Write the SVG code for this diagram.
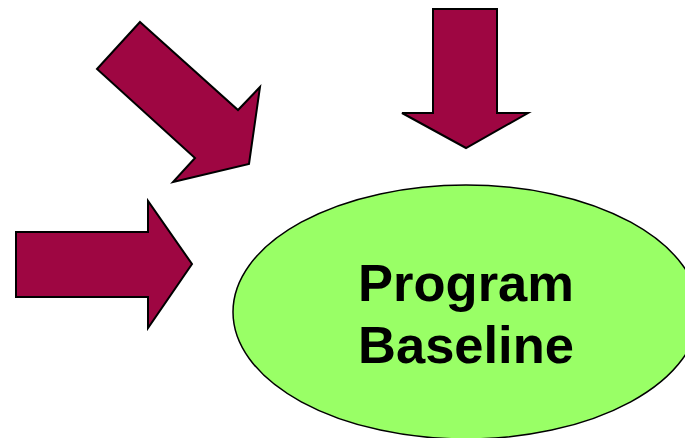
<svg xmlns="http://www.w3.org/2000/svg" width="685" height="438" viewBox="0 0 685 438">
  <style>
    .arrow { fill: #9E0642; stroke: #000; stroke-width: 2; stroke-linejoin: miter; }
    .baseline { fill: #99FF66; stroke: #000; stroke-width: 1.5; }
    .label { font-family: "Liberation Sans", Arial, sans-serif; font-weight: bold; font-size: 52.5px; fill: #000; text-anchor: middle; }
  </style>
  <rect width="685" height="438" fill="#fff"/>
  <g id="arrow-diagonal">
    <polygon class="arrow" points="140,22 238,110 260,87 249,164 173,182 195,158 97,69"/>
  </g>
  <g id="arrow-down">
    <polygon class="arrow" points="433,9 497,9 497,113 528,113 466,148 402,113 433,113"/>
  </g>
  <g id="arrow-right">
    <polygon class="arrow" points="16,232 148,232 148,201 192,264 148,328 148,297 16,297"/>
  </g>
  <g id="program-baseline">
    <ellipse class="baseline" cx="466" cy="312" rx="233" ry="127"/>
    <text class="label" x="466" y="301">Program</text>
    <text class="label" x="466" y="363">Baseline</text>
  </g>
</svg>
